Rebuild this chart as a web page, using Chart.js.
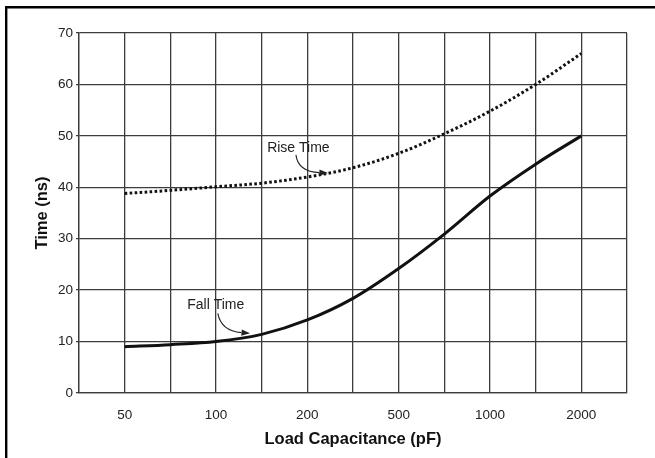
<!DOCTYPE html>
<html>
<head>
<meta charset="utf-8">
<script src="https://cdn.jsdelivr.net/npm/chart.js@4/dist/chart.umd.min.js"></script>
<style>
  html, body { margin: 0; padding: 0; background: #fff; }
  #wrap { position: relative; width: 655px; height: 458px; }
</style>
</head>
<body>
<div id="wrap"><canvas id="c" width="655" height="458"></canvas></div>
<script>
// ---- data ----
const categories = ['', '50', '', '100', '', '200', '', '500', '', '1000', '', '2000', ''];
const riseTime = [null, 38.8, 39.4, 40.1, 40.8, 42.0, 43.8, 46.6, 50.4, 54.8, 60.0, 66.0, null];
const fallTime = [null, 9.0, 9.4, 10.0, 11.4, 14.2, 18.4, 24.2, 30.9, 38.3, 44.5, 50.0, null];
const yTicks = [0, 10, 20, 30, 40, 50, 60, 70];
const xTitle = 'Load Capacitance (pF)';
const yTitle = 'Time (ns)';

// annotation labels (in axis units: category index, value)
const annotLabels = ['Rise Time', 'Fall Time'];
const annotText = [[4.12, 46.9], [2.37, 16.3]];
const annotStart = [[4.75, 46.3], [3.04, 15.5]];
const annotCtrl = [[4.80, 43.0], [3.11, 12.1]];
const annotTip = [[5.45, 42.8], [3.745, 11.6]];

const FONT = "'Liberation Sans', Arial, sans-serif";
const GRID = '#3c3c3c';

const annotPlugin = {
  id: 'annot',
  afterDraw(chart) {
    const {ctx, scales: {x, y}} = chart;
    ctx.save();
    // frame (top and left border)
    ctx.strokeStyle = '#000';
    ctx.lineWidth = 2.4;
    ctx.beginPath();
    ctx.moveTo(6.2, 458);
    ctx.lineTo(6.2, 7.2);
    ctx.lineTo(655, 7.2);
    ctx.stroke();

    ctx.font = '14px ' + FONT;
    ctx.fillStyle = '#222';
    ctx.textBaseline = 'alphabetic';
    ctx.textAlign = 'left';
    for (let i = 0; i < annotLabels.length; i++) {
      const tx = x.getPixelForValue(annotText[i][0]);
      const ty = y.getPixelForValue(annotText[i][1]);
      ctx.fillText(annotLabels[i], tx, ty);
      const sx = x.getPixelForValue(annotStart[i][0]), sy = y.getPixelForValue(annotStart[i][1]);
      const cx = x.getPixelForValue(annotCtrl[i][0]), cy = y.getPixelForValue(annotCtrl[i][1]);
      const ex = x.getPixelForValue(annotTip[i][0]), ey = y.getPixelForValue(annotTip[i][1]);
      const ang = Math.atan2(ey - cy, ex - cx);
      const L = 8.5, W = 3.2;
      const bx = ex - L * Math.cos(ang), by = ey - L * Math.sin(ang);
      ctx.strokeStyle = '#222';
      ctx.lineWidth = 1.1;
      ctx.beginPath();
      ctx.moveTo(sx, sy);
      ctx.quadraticCurveTo(cx, cy, bx, by);
      ctx.stroke();
      ctx.beginPath();
      ctx.moveTo(ex, ey);
      ctx.lineTo(bx + W * Math.sin(ang), by - W * Math.cos(ang));
      ctx.lineTo(bx - W * Math.sin(ang), by + W * Math.cos(ang));
      ctx.closePath();
      ctx.fill();
    }
    ctx.restore();
  }
};

new Chart(document.getElementById('c'), {
  type: 'line',
  data: {
    labels: categories,
    datasets: [
      {
        label: 'Rise Time',
        data: riseTime,
        borderColor: '#111',
        borderWidth: 3,
        borderDash: [2.6, 2.4],
        borderCapStyle: 'butt',
        pointRadius: 0,
        fill: false,
        cubicInterpolationMode: 'monotone'
      },
      {
        label: 'Fall Time',
        data: fallTime,
        borderColor: '#111',
        borderWidth: 3,
        pointRadius: 0,
        fill: false,
        cubicInterpolationMode: 'monotone'
      }
    ]
  },
  options: {
    responsive: false,
    animation: false,
    devicePixelRatio: 1,
    layout: { padding: { top: 33, right: 28, left: 0, bottom: 0 } },
    plugins: { legend: { display: false }, tooltip: { enabled: false } },
    scales: {
      x: {
        type: 'category',
        offset: false,
        grid: { color: GRID, lineWidth: 1.3, drawTicks: false },
        border: { color: GRID, width: 1.3 },
        ticks: {
          autoSkip: false, maxRotation: 0, minRotation: 0, padding: 14,
          color: '#222', font: { family: FONT, size: 13.5 }
        },
        title: {
          display: true, text: xTitle, color: '#111',
          font: { family: FONT, size: 16.5, weight: 'bold' },
          padding: { top: 0, bottom: 9 }
        },
        afterFit(s) { s.height = 65; }
      },
      y: {
        min: 0, max: 70,
        afterBuildTicks(s) { s.ticks = yTicks.map(v => ({ value: v })); },
        grid: { color: GRID, lineWidth: 1.3, drawTicks: true, tickLength: 3 },
        border: { color: GRID, width: 1.3 },
        ticks: {
          padding: 3, color: '#222', font: { family: FONT, size: 13.5 }
        },
        title: {
          display: true, text: yTitle, color: '#111',
          font: { family: FONT, size: 16.5, weight: 'bold' },
          padding: { top: 33, bottom: 0 }
        },
        afterFit(s) { s.width = 79; }
      }
    }
  },
  plugins: [annotPlugin]
});
</script>
</body>
</html>
